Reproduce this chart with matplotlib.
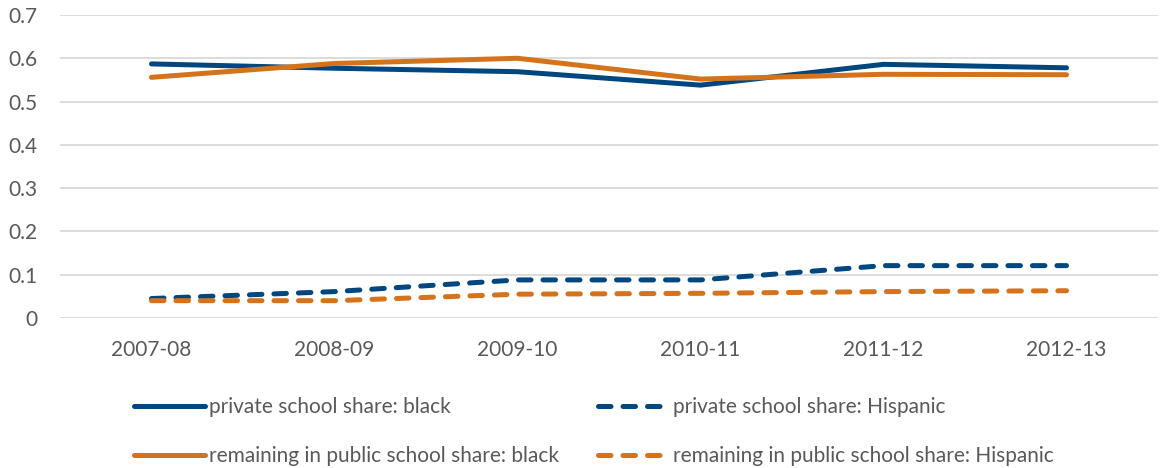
import matplotlib
matplotlib.use('Agg')
import matplotlib.pyplot as plt

years = ['2007-08', '2008-09', '2009-10', '2010-11', '2011-12', '2012-13']
private_black = [0.587, 0.577, 0.569, 0.538, 0.586, 0.578]
private_hispanic = [0.045, 0.061, 0.088, 0.088, 0.121, 0.121]
public_black = [0.556, 0.588, 0.600, 0.552, 0.563, 0.562]
public_hispanic = [0.040, 0.040, 0.055, 0.057, 0.061, 0.063]

BLUE = '#00467f'
ORANGE = '#d4731c'
TEXT = '#595959'

plt.rcParams['font.family'] = ['Lato', 'DejaVu Sans']

fig = plt.figure(figsize=(11.62, 4.68), dpi=100)
ax = fig.add_axes([60 / 1162, 1 - 318 / 468, 1098 / 1162, 303 / 468])

x = list(range(len(years)))
lw = 3.6
ax.plot(x, private_black, color=BLUE, lw=lw, solid_capstyle='round',
        label='private school share: black')
ax.plot(x, private_hispanic, color=BLUE, lw=lw, dashes=(2.5, 2.4),
        dash_capstyle='round', label='private school share: Hispanic')
ax.plot(x, public_black, color=ORANGE, lw=lw, solid_capstyle='round',
        label='remaining in public school share: black')
ax.plot(x, public_hispanic, color=ORANGE, lw=lw, dashes=(2.5, 2.4),
        dash_capstyle='round', label='remaining in public school share: Hispanic')

ax.set_xlim(-0.5, len(years) - 0.5)
ax.set_ylim(0, 0.7)
ax.set_xticks(x)
ax.set_xticklabels(years)
ax.set_yticks([i / 10 for i in range(8)])
ax.set_yticklabels(['0'] + ['%.1f' % (i / 10) for i in range(1, 8)])
ax.grid(axis='y', color='#d9d9d9', lw=1.3)
ax.set_axisbelow(True)
for s in ax.spines.values():
    s.set_visible(False)
ax.tick_params(length=0, labelsize=15, colors=TEXT, pad=16)
ax.tick_params(axis='x', pad=16)

handles, labels = ax.get_legend_handles_labels()
order = [0, 2, 1, 3]
fig.legend([handles[i] for i in order], [labels[i] for i in order],
           ncol=2, loc='lower left', bbox_to_anchor=(115 / 1162, -17 / 468),
           frameon=False, fontsize=15, labelcolor=TEXT,
           handlelength=3.4, handletextpad=0.2, columnspacing=1.9,
           labelspacing=1.4)

fig.savefig('out.png', dpi=100)
